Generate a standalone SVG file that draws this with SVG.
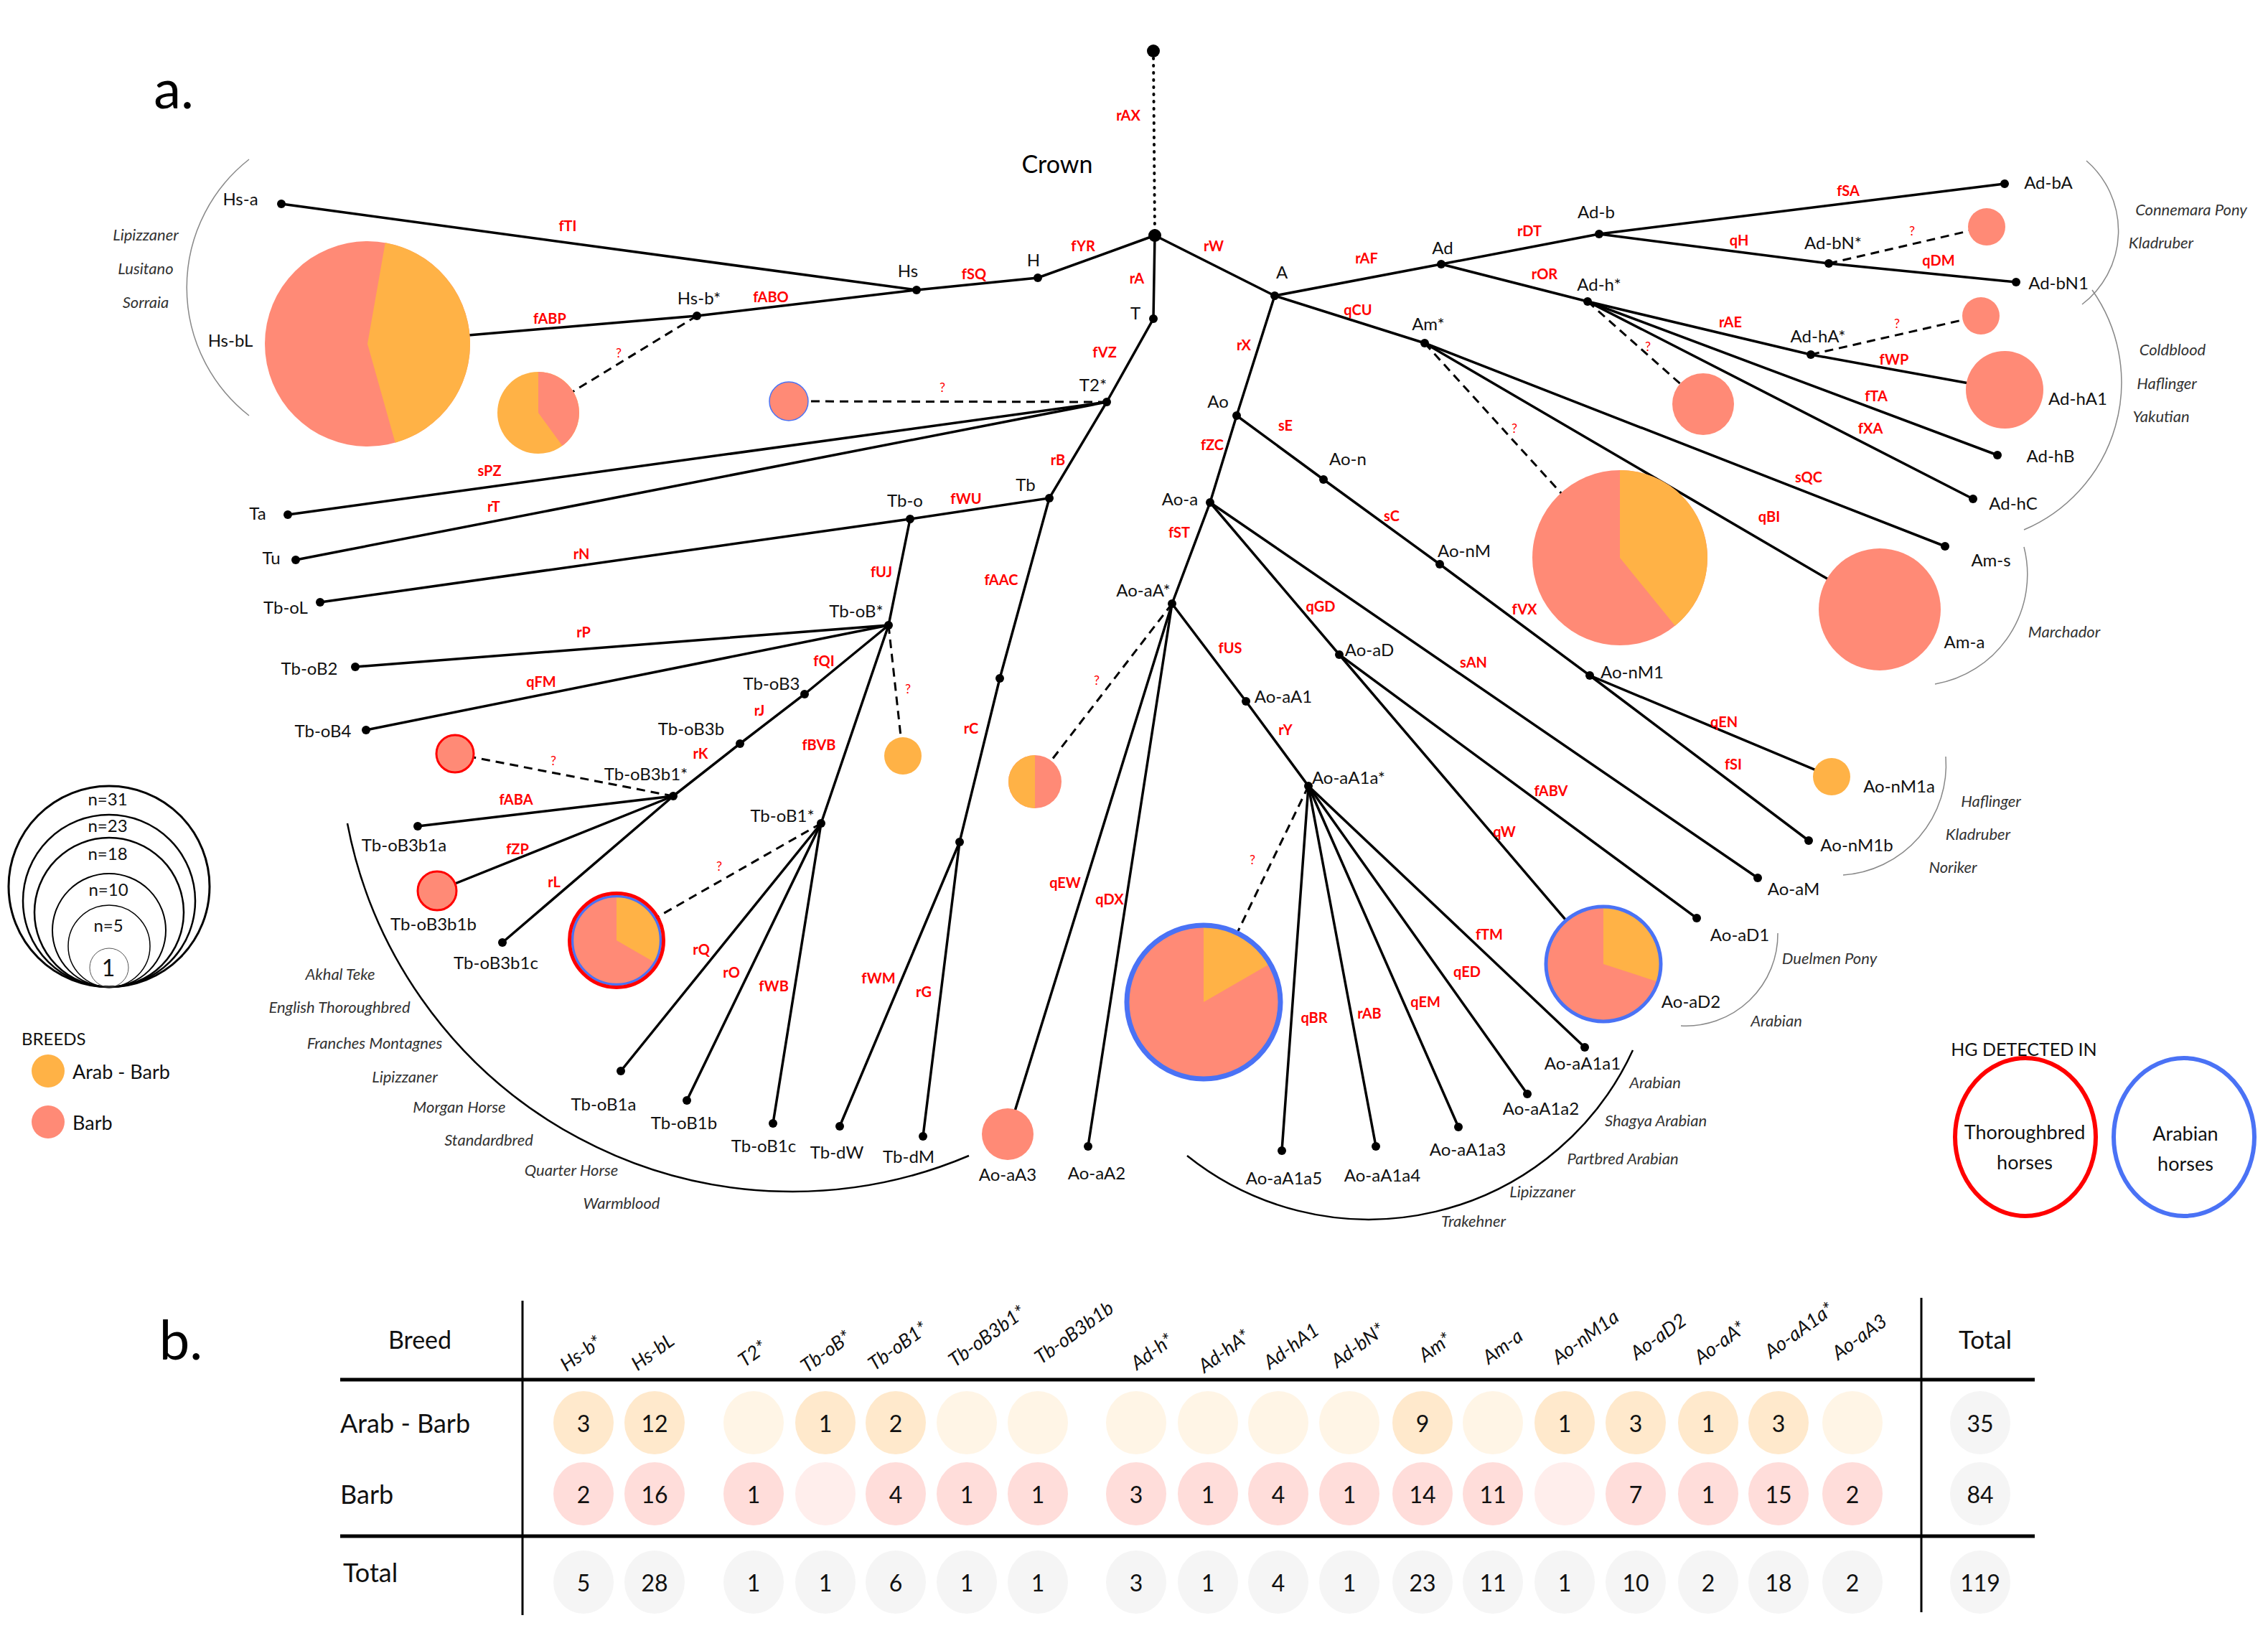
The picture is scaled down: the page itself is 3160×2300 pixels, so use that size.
<svg xmlns="http://www.w3.org/2000/svg" width="3160" height="2300" viewBox="0 0 3160 2300">
<style>
text{font-family:Lato,"Open Sans","Liberation Sans",sans-serif;dominant-baseline:central}
.e{stroke:#000;stroke-width:3.5;fill:none;stroke-linecap:round}
.d{stroke:#000;stroke-width:3;fill:none;stroke-dasharray:12 8}
.dot{fill:#000}
.lb{font-size:24px;fill:#111;text-anchor:middle}
.el{font-size:20px;font-weight:700;fill:#f00;text-anchor:middle}
.q{font-size:18px;fill:#f00;text-anchor:middle}
.br{font-size:22px;font-style:italic;fill:#333;text-anchor:middle}
.arc{fill:none;stroke:#888;stroke-width:1.5}
.arcb{fill:none;stroke:#000;stroke-width:2.5}
.or{fill:#FFB246}
.pk{fill:#FF8A76}
.rs{fill:none;stroke:#f00}
.bs{fill:none;stroke:#4A72F5}
.hd{font-size:27px;font-style:italic;fill:#111}
.num{font-size:32px;fill:#111;text-anchor:middle}
.ca{fill:#FFE9CC}.cae{fill:#FFF5E6}.cb{fill:#FFDDDA}.cbe{fill:#FFEEEC}.ct{fill:#F5F5F5}
</style>
<rect width="3160" height="2300" fill="#fff"/>
<text x="242" y="121" font-size="76" style="text-anchor:middle">a.</text>
<text x="252" y="1864" font-size="76" style="text-anchor:middle">b.</text>
<text x="1473" y="227" font-size="34" style="text-anchor:middle">Crown</text>

<g id="connectors">
<path d="M1607,71 L1609,328" stroke="#000" stroke-width="4" stroke-dasharray="1 9" stroke-linecap="round"/>
<path class="e" d="M1609,328 L1446,387 L1277,404 L392,284"/>
<path class="e" d="M1277,404 L971,440 L512,479"/>
<path class="d" d="M971,440 L750,575"/>
<path class="e" d="M1609,328 L1607,444 L1542,560 L401,717"/>
<path class="d" d="M1542,560 L1099,559"/>
<path class="e" d="M1542,560 L412,780"/>
<path class="e" d="M1542,560 L1462,694 L1268,723 L446,839"/>
<path class="e" d="M1268,723 L1238,871 L495,929"/>
<path class="e" d="M1238,871 L510,1017"/>
<path class="e" d="M1238,871 L1121,967 L1031,1036 L938,1109 L582,1151"/>
<path class="d" d="M938,1109 L634,1050"/>
<path class="e" d="M938,1109 L609,1241"/>
<path class="e" d="M938,1109 L700,1313"/>
<path class="d" d="M1238,871 L1258,1053"/>
<path class="e" d="M1238,871 L1144,1147 L865,1492"/>
<path class="d" d="M1144,1147 L859,1310"/>
<path class="e" d="M1144,1147 L957,1533"/>
<path class="e" d="M1144,1147 L1077,1565"/>
<path class="e" d="M1462,694 L1393,945 L1337,1173 L1170,1569"/>
<path class="e" d="M1337,1173 L1286,1583"/>
<path class="e" d="M1609,328 L1776,412 L2008,368 L2228,326 L2793,256"/>
<path class="e" d="M2228,326 L2548,367 L2809,393"/>
<path class="d" d="M2548,367 L2768,316"/>
<path class="e" d="M2008,368 L2212,420 L2523,494 L2793,543"/>
<path class="d" d="M2523,494 L2760,440"/>
<path class="e" d="M2212,420 L2783,634"/>
<path class="e" d="M2212,420 L2749,695"/>
<path class="d" d="M2212,420 L2373,563"/>
<path class="e" d="M1776,412 L1985,478 L2710,761"/>
<path class="d" d="M1985,478 L2257,777"/>
<path class="e" d="M1985,478 L2619,849"/>
<path class="e" d="M1776,412 L1723,579 L1844,668 L2006,786 L2215,941 L2552,1082"/>
<path class="e" d="M2215,941 L2520,1171"/>
<path class="e" d="M1723,579 L1686,700 L2449,1223"/>
<path class="e" d="M1686,700 L1866,912 L2364,1279"/>
<path class="e" d="M1866,912 L2234,1343"/>
<path class="e" d="M1686,700 L1633,841 L1404,1580"/>
<path class="d" d="M1633,841 L1442,1089"/>
<path class="e" d="M1633,841 L1516,1597"/>
<path class="e" d="M1633,841 L1736,977 L1823,1095 L2208,1459"/>
<path class="d" d="M1823,1095 L1677,1396"/>
<path class="e" d="M1823,1095 L2128,1524"/>
<path class="e" d="M1823,1095 L2032,1570"/>
<path class="e" d="M1823,1095 L1917,1597"/>
<path class="e" d="M1823,1095 L1786,1603"/>
</g>

<g id="edge-labels">
<text class="el" x="1572" y="160">rAX</text>
<text class="el" x="1509" y="342">fYR</text>
<text class="el" x="1357" y="381">fSQ</text>
<text class="el" x="1691" y="342">rW</text>
<text class="el" x="1584" y="387">rA</text>
<text class="el" x="1904" y="359">rAF</text>
<text class="el" x="1892" y="431">qCU</text>
<text class="el" x="791" y="314">fTI</text>
<text class="el" x="1074" y="413">fABO</text>
<text class="el" x="766" y="443">fABP</text>
<text class="q" x="862" y="491">?</text>
<text class="el" x="1539" y="490">fVZ</text>
<text class="q" x="1313" y="539">?</text>
<text class="el" x="682" y="655">sPZ</text>
<text class="el" x="688" y="705">rT</text>
<text class="el" x="1733" y="480">rX</text>
<text class="el" x="1791" y="592">sE</text>
<text class="el" x="1689" y="619">fZC</text>
<text class="el" x="1939" y="718">sC</text>
<text class="el" x="1474" y="640">rB</text>
<text class="el" x="1346" y="694">fWU</text>
<text class="el" x="810" y="771">rN</text>
<text class="el" x="1228" y="796">fUJ</text>
<text class="el" x="813" y="880">rP</text>
<text class="el" x="754" y="949">qFM</text>
<text class="el" x="1148" y="920">fQI</text>
<text class="el" x="1058" y="989">rJ</text>
<text class="el" x="976" y="1049">rK</text>
<text class="q" x="1265" y="959">?</text>
<text class="el" x="1141" y="1037">fBVB</text>
<text class="q" x="771" y="1059">?</text>
<text class="el" x="719" y="1113">fABA</text>
<text class="el" x="721" y="1182">fZP</text>
<text class="el" x="772" y="1228">rL</text>
<text class="q" x="1002" y="1206">?</text>
<text class="el" x="977" y="1322">rQ</text>
<text class="el" x="1019" y="1354">rO</text>
<text class="el" x="1078" y="1373">fWB</text>
<text class="el" x="1224" y="1362">fWM</text>
<text class="el" x="1287" y="1381">rG</text>
<text class="el" x="1395" y="807">fAAC</text>
<text class="el" x="1353" y="1014">rC</text>
<text class="el" x="1643" y="741">fST</text>
<text class="el" x="1840" y="844">qGD</text>
<text class="el" x="1714" y="902">fUS</text>
<text class="q" x="1528" y="947">?</text>
<text class="el" x="1791" y="1016">rY</text>
<text class="q" x="1745" y="1197">?</text>
<text class="el" x="1484" y="1229">qEW</text>
<text class="el" x="1546" y="1252">qDX</text>
<text class="el" x="1831" y="1417">qBR</text>
<text class="el" x="1908" y="1411">rAB</text>
<text class="el" x="1986" y="1395">qEM</text>
<text class="el" x="2044" y="1353">qED</text>
<text class="el" x="2075" y="1301">fTM</text>
<text class="el" x="2096" y="1158">qW</text>
<text class="el" x="2161" y="1101">fABV</text>
<text class="el" x="2053" y="922">sAN</text>
<text class="el" x="2124" y="848">fVX</text>
<text class="el" x="2402" y="1005">qEN</text>
<text class="el" x="2415" y="1064">fSI</text>
<text class="el" x="2131" y="321">rDT</text>
<text class="el" x="2575" y="265">fSA</text>
<text class="el" x="2423" y="334">qH</text>
<text class="q" x="2664" y="321">?</text>
<text class="el" x="2701" y="362">qDM</text>
<text class="el" x="2152" y="381">rOR</text>
<text class="el" x="2411" y="448">rAE</text>
<text class="q" x="2643" y="450">?</text>
<text class="el" x="2639" y="500">fWP</text>
<text class="el" x="2614" y="551">fTA</text>
<text class="el" x="2606" y="596">fXA</text>
<text class="q" x="2296" y="482">?</text>
<text class="q" x="2110" y="596">?</text>
<text class="el" x="2520" y="664">sQC</text>
<text class="el" x="2465" y="719">qBI</text>
</g>

<g id="breed-arcs">
<path class="arc" d="M347,222 A227,227 0 0,0 347,579"/>
<path class="arc" d="M2907,224 A129,129 0 0,1 2901,424"/>
<path class="arc" d="M2915,404 A223,223 0 0,1 2820,738"/>
<path class="arc" d="M2820,762 A155,155 0 0,1 2696,953"/>
<path class="arc" d="M2711,1054 A154,154 0 0,1 2568,1219"/>
<path class="arc" d="M2477,1300 A128,128 0 0,1 2342,1429"/>
<path class="arcb" d="M484,1147 A631,631 0 0,0 1350,1610"/>
<path class="arcb" d="M1654,1610 A405,405 0 0,0 2275,1463"/>
<text class="br" x="203" y="326">Lipizzaner</text>
<text class="br" x="203" y="373">Lusitano</text>
<text class="br" x="203" y="420">Sorraia</text>
<text class="br" x="3053" y="291">Connemara Pony</text>
<text class="br" x="3011" y="337">Kladruber</text>
<text class="br" x="3027" y="486">Coldblood</text>
<text class="br" x="3019" y="533">Haflinger</text>
<text class="br" x="3011" y="579">Yakutian</text>
<text class="br" x="2876" y="879">Marchador</text>
<text class="br" x="2774" y="1115">Haflinger</text>
<text class="br" x="2756" y="1161">Kladruber</text>
<text class="br" x="2721" y="1207">Noriker</text>
<text class="br" x="2549" y="1334">Duelmen Pony</text>
<text class="br" x="2475" y="1421">Arabian</text>
<text class="br" x="2306" y="1507">Arabian</text>
<text class="br" x="2307" y="1560">Shagya Arabian</text>
<text class="br" x="2261" y="1613">Partbred Arabian</text>
<text class="br" x="2149" y="1659">Lipizzaner</text>
<text class="br" x="2053" y="1700">Trakehner</text>
<text class="br" x="474" y="1356">Akhal Teke</text>
<text class="br" x="473" y="1402">English Thoroughbred</text>
<text class="br" x="522" y="1452">Franches Montagnes</text>
<text class="br" x="564" y="1499">Lipizzaner</text>
<text class="br" x="640" y="1541">Morgan Horse</text>
<text class="br" x="681" y="1587">Standardbred</text>
<text class="br" x="796" y="1629">Quarter Horse</text>
<text class="br" x="866" y="1675">Warmblood</text>
</g>

<g id="n-root"><circle class="dot" cx="1607" cy="71" r="9"/></g>
<g id="n-crown"><circle class="dot" cx="1609" cy="328" r="9"/></g>
<g id="n-H"><circle class="dot" cx="1446" cy="387" r="6"/><text class="lb" x="1440" y="361">H</text></g>
<g id="n-Hs"><circle class="dot" cx="1277" cy="404" r="6"/><text class="lb" x="1265" y="376">Hs</text></g>
<g id="n-Hs-a"><circle class="dot" cx="392" cy="284" r="6"/><text class="lb" x="335" y="276">Hs-a</text></g>
<g id="n-Hs-b"><circle class="dot" cx="971" cy="440" r="6"/><text class="lb" x="974" y="414">Hs-b*</text></g>
<g id="n-Hs-bL"><circle class="pk" cx="512" cy="479" r="143"/><path class="or" d="M512,479 L536.8,338.2 A143,143 0 0,1 550.7,616.7 Z"/><text class="lb" x="321" y="473">Hs-bL</text></g>
<g id="n-Hs-b-pie"><circle class="or" cx="750" cy="575" r="57"/><path class="pk" d="M750,575 L750,518 A57,57 0 0,1 783.5,621.1 Z"/></g>
<g id="n-T"><circle class="dot" cx="1607" cy="444" r="6"/><text class="lb" x="1582" y="435">T</text></g>
<g id="n-T2"><circle class="dot" cx="1542" cy="560" r="6"/><text class="lb" x="1523" y="535">T2*</text></g>
<g id="n-T2-pie"><circle class="pk" cx="1099" cy="559" r="27" stroke="#4A72F5" stroke-width="1.5"/></g>
<g id="n-Ta"><circle class="dot" cx="401" cy="717" r="6"/><text class="lb" x="359" y="714">Ta</text></g>
<g id="n-Tu"><circle class="dot" cx="412" cy="780" r="6"/><text class="lb" x="378" y="776">Tu</text></g>
<g id="n-Tb"><circle class="dot" cx="1462" cy="694" r="6"/><text class="lb" x="1429" y="674">Tb</text></g>
<g id="n-Tb-o"><circle class="dot" cx="1268" cy="723" r="6"/><text class="lb" x="1261" y="696">Tb-o</text></g>
<g id="n-Tb-oL"><circle class="dot" cx="446" cy="839" r="6"/><text class="lb" x="398" y="845">Tb-oL</text></g>
<g id="n-Tb-oB"><circle class="dot" cx="1238" cy="871" r="6"/><text class="lb" x="1193" y="850">Tb-oB*</text></g>
<g id="n-Tb-oB-pie"><circle class="or" cx="1258" cy="1053" r="26"/></g>
<g id="n-Tb-oB2"><circle class="dot" cx="495" cy="929" r="6"/><text class="lb" x="431" y="930">Tb-oB2</text></g>
<g id="n-Tb-oB4"><circle class="dot" cx="510" cy="1017" r="6"/><text class="lb" x="450" y="1017">Tb-oB4</text></g>
<g id="n-Tb-oB3"><circle class="dot" cx="1121" cy="967" r="6"/><text class="lb" x="1075" y="951">Tb-oB3</text></g>
<g id="n-Tb-oB3b"><circle class="dot" cx="1031" cy="1036" r="6"/><text class="lb" x="963" y="1014">Tb-oB3b</text></g>
<g id="n-Tb-oB3b1"><circle class="dot" cx="938" cy="1109" r="6"/><text class="lb" x="900" y="1077">Tb-oB3b1*</text></g>
<g id="n-Tb-oB3b1-pie"><circle class="pk" cx="634" cy="1050" r="26" stroke="#f00" stroke-width="3"/></g>
<g id="n-Tb-oB3b1a"><circle class="dot" cx="582" cy="1151" r="6"/><text class="lb" x="563" y="1176">Tb-oB3b1a</text></g>
<g id="n-Tb-oB3b1b"><circle class="pk" cx="609" cy="1241" r="27" stroke="#f00" stroke-width="3"/><text class="lb" x="604" y="1286">Tb-oB3b1b</text></g>
<g id="n-Tb-oB3b1c"><circle class="dot" cx="700" cy="1313" r="6"/><text class="lb" x="691" y="1340">Tb-oB3b1c</text></g>
<g id="n-Tb-oB1"><circle class="dot" cx="1144" cy="1147" r="6"/><text class="lb" x="1090" y="1135">Tb-oB1*</text></g>
<g id="n-Tb-oB1-pie"><circle class="pk" cx="859" cy="1310" r="62"/><path class="or" d="M859,1310 L859,1248 A62,62 0 0,1 912.7,1341 Z"/><circle class="bs" cx="859" cy="1310" r="61.5" stroke-width="3.5"/><circle class="rs" cx="859" cy="1310" r="65.5" stroke-width="5"/></g>
<g id="n-Tb-oB1a"><circle class="dot" cx="865" cy="1492" r="6"/><text class="lb" x="841" y="1537">Tb-oB1a</text></g>
<g id="n-Tb-oB1b"><circle class="dot" cx="957" cy="1533" r="6"/><text class="lb" x="953" y="1563">Tb-oB1b</text></g>
<g id="n-Tb-oB1c"><circle class="dot" cx="1077" cy="1565" r="6"/><text class="lb" x="1064" y="1595">Tb-oB1c</text></g>
<g id="n-Tb-d1"><circle class="dot" cx="1393" cy="945" r="6"/></g>
<g id="n-Tb-d"><circle class="dot" cx="1337" cy="1173" r="6"/></g>
<g id="n-Tb-dW"><circle class="dot" cx="1170" cy="1569" r="6"/><text class="lb" x="1166" y="1604">Tb-dW</text></g>
<g id="n-Tb-dM"><circle class="dot" cx="1286" cy="1583" r="6"/><text class="lb" x="1266" y="1610">Tb-dM</text></g>
<g id="n-A"><circle class="dot" cx="1776" cy="412" r="6"/><text class="lb" x="1786" y="378">A</text></g>
<g id="n-Ad"><circle class="dot" cx="2008" cy="368" r="6"/><text class="lb" x="2010" y="344">Ad</text></g>
<g id="n-Ad-b"><circle class="dot" cx="2228" cy="326" r="6"/><text class="lb" x="2224" y="294">Ad-b</text></g>
<g id="n-Ad-bA"><circle class="dot" cx="2793" cy="256" r="6"/><text class="lb" x="2854" y="253">Ad-bA</text></g>
<g id="n-Ad-bN"><circle class="dot" cx="2548" cy="367" r="6"/><text class="lb" x="2554" y="337">Ad-bN*</text></g>
<g id="n-Ad-bN-pie"><circle class="pk" cx="2768" cy="316" r="26"/></g>
<g id="n-Ad-bN1"><circle class="dot" cx="2809" cy="393" r="6"/><text class="lb" x="2868" y="393">Ad-bN1</text></g>
<g id="n-Ad-h"><circle class="dot" cx="2212" cy="420" r="6"/><text class="lb" x="2228" y="395">Ad-h*</text></g>
<g id="n-Ad-h-pie"><circle class="pk" cx="2373" cy="563" r="43"/></g>
<g id="n-Ad-hA"><circle class="dot" cx="2523" cy="494" r="6"/><text class="lb" x="2533" y="467">Ad-hA*</text></g>
<g id="n-Ad-hA-pie"><circle class="pk" cx="2760" cy="440" r="26"/></g>
<g id="n-Ad-hA1"><circle class="pk" cx="2793" cy="543" r="54"/><text class="lb" x="2895" y="554">Ad-hA1</text></g>
<g id="n-Ad-hB"><circle class="dot" cx="2783" cy="634" r="6"/><text class="lb" x="2857" y="634">Ad-hB</text></g>
<g id="n-Ad-hC"><circle class="dot" cx="2749" cy="695" r="6"/><text class="lb" x="2805" y="700">Ad-hC</text></g>
<g id="n-Am"><circle class="dot" cx="1985" cy="478" r="6"/><text class="lb" x="1990" y="450">Am*</text></g>
<g id="n-Am-pie"><circle class="pk" cx="2257" cy="777" r="122"/><path class="or" d="M2257,777 L2257,655 A122,122 0 0,1 2333.9,871.7 Z"/></g>
<g id="n-Am-s"><circle class="dot" cx="2710" cy="761" r="6"/><text class="lb" x="2774" y="779">Am-s</text></g>
<g id="n-Am-a"><circle class="pk" cx="2619" cy="849" r="85"/><text class="lb" x="2737" y="893">Am-a</text></g>
<g id="n-Ao"><circle class="dot" cx="1723" cy="579" r="6"/><text class="lb" x="1697" y="558">Ao</text></g>
<g id="n-Ao-n"><circle class="dot" cx="1844" cy="668" r="6"/><text class="lb" x="1878" y="638">Ao-n</text></g>
<g id="n-Ao-nM"><circle class="dot" cx="2006" cy="786" r="6"/><text class="lb" x="2040" y="766">Ao-nM</text></g>
<g id="n-Ao-nM1"><circle class="dot" cx="2215" cy="941" r="6"/><text class="lb" x="2274" y="935">Ao-nM1</text></g>
<g id="n-Ao-nM1a"><circle class="or" cx="2552" cy="1082" r="26"/><text class="lb" x="2646" y="1094">Ao-nM1a</text></g>
<g id="n-Ao-nM1b"><circle class="dot" cx="2520" cy="1171" r="6"/><text class="lb" x="2587" y="1176">Ao-nM1b</text></g>
<g id="n-Ao-a"><circle class="dot" cx="1686" cy="700" r="6"/><text class="lb" x="1644" y="694">Ao-a</text></g>
<g id="n-Ao-aM"><circle class="dot" cx="2449" cy="1223" r="6"/><text class="lb" x="2499" y="1237">Ao-aM</text></g>
<g id="n-Ao-aD"><circle class="dot" cx="1866" cy="912" r="6"/><text class="lb" x="1908" y="904">Ao-aD</text></g>
<g id="n-Ao-aD1"><circle class="dot" cx="2364" cy="1279" r="6"/><text class="lb" x="2424" y="1301">Ao-aD1</text></g>
<g id="n-Ao-aD2"><circle class="pk" cx="2234" cy="1343" r="80"/><path class="or" d="M2234,1343 L2234,1263 A80,80 0 0,1 2310.1,1367.7 Z"/><circle class="bs" cx="2234" cy="1343" r="80" stroke-width="5"/><text class="lb" x="2356" y="1394">Ao-aD2</text></g>
<g id="n-Ao-aA"><circle class="dot" cx="1633" cy="841" r="6"/><text class="lb" x="1593" y="821">Ao-aA*</text></g>
<g id="n-Ao-aA-pie"><circle class="pk" cx="1442" cy="1089" r="37"/><path class="or" d="M1442,1052 A37,37 0 0,0 1442,1126 Z"/></g>
<g id="n-Ao-aA3"><circle class="pk" cx="1404" cy="1580" r="36"/><text class="lb" x="1404" y="1635">Ao-aA3</text></g>
<g id="n-Ao-aA2"><circle class="dot" cx="1516" cy="1597" r="6"/><text class="lb" x="1528" y="1633">Ao-aA2</text></g>
<g id="n-Ao-aA1"><circle class="dot" cx="1736" cy="977" r="6"/><text class="lb" x="1788" y="969">Ao-aA1</text></g>
<g id="n-Ao-aA1a"><circle class="dot" cx="1823" cy="1095" r="6"/><text class="lb" x="1879" y="1082">Ao-aA1a*</text></g>
<g id="n-Ao-aA1a-pie"><circle class="pk" cx="1677" cy="1396" r="107"/><path class="or" d="M1677,1396 L1677,1289 A107,107 0 0,1 1769.7,1342.5 Z"/><circle class="bs" cx="1677" cy="1396" r="107" stroke-width="7"/></g>
<g id="n-Ao-aA1a1"><circle class="dot" cx="2208" cy="1459" r="6"/><text class="lb" x="2205" y="1480">Ao-aA1a1</text></g>
<g id="n-Ao-aA1a2"><circle class="dot" cx="2128" cy="1524" r="6"/><text class="lb" x="2147" y="1543">Ao-aA1a2</text></g>
<g id="n-Ao-aA1a3"><circle class="dot" cx="2032" cy="1570" r="6"/><text class="lb" x="2045" y="1600">Ao-aA1a3</text></g>
<g id="n-Ao-aA1a4"><circle class="dot" cx="1917" cy="1597" r="6"/><text class="lb" x="1926" y="1636">Ao-aA1a4</text></g>
<g id="n-Ao-aA1a5"><circle class="dot" cx="1786" cy="1603" r="6"/><text class="lb" x="1789" y="1640">Ao-aA1a5</text></g>

<g id="legend-size" fill="none" stroke="#000">
<circle cx="152" cy="1235" r="140" stroke-width="3"/>
<circle cx="152" cy="1255" r="120" stroke-width="2.5"/>
<circle cx="152" cy="1271" r="104" stroke-width="2.5"/>
<circle cx="152" cy="1296" r="79" stroke-width="2"/>
<circle cx="152" cy="1318" r="57" stroke-width="1.5"/>
<circle cx="152" cy="1348" r="27" stroke-width="1" stroke="#555"/>
</g>
<g id="legend-size-text" font-size="24" fill="#111">
<text x="150" y="1112" style="text-anchor:middle">n=31</text>
<text x="150" y="1149" style="text-anchor:middle">n=23</text>
<text x="150" y="1188" style="text-anchor:middle">n=18</text>
<text x="151" y="1238" style="text-anchor:middle">n=10</text>
<text x="151" y="1288" style="text-anchor:middle">n=5</text>
<text x="151" y="1347" font-size="32" style="text-anchor:middle">1</text>
</g>
<g id="legend-breeds">
<text x="30" y="1446" font-size="24" fill="#111">BREEDS</text>
<circle class="or" cx="67" cy="1492" r="23"/>
<text x="101" y="1492" font-size="27" fill="#111">Arab - Barb</text>
<circle class="pk" cx="67" cy="1563" r="23"/>
<text x="101" y="1563" font-size="27" fill="#111">Barb</text>
</g>
<g id="legend-hg">
<text x="2820" y="1461" font-size="25" fill="#111" style="text-anchor:middle">HG DETECTED IN</text>
<ellipse cx="2822" cy="1584" rx="98" ry="110" fill="none" stroke="#f00" stroke-width="6"/>
<ellipse cx="3043" cy="1584" rx="98" ry="110" fill="none" stroke="#4A72F5" stroke-width="6"/>
<text x="2821" y="1576" font-size="27" fill="#111" style="text-anchor:middle">Thoroughbred</text>
<text x="2821" y="1618" font-size="27" fill="#111" style="text-anchor:middle">horses</text>
<text x="3045" y="1578" font-size="27" fill="#111" style="text-anchor:middle">Arabian</text>
<text x="3045" y="1620" font-size="27" fill="#111" style="text-anchor:middle">horses</text>
</g>

<g id="table">
<line x1="474" y1="1922" x2="2835" y2="1922" stroke="#000" stroke-width="5"/>
<line x1="474" y1="2140" x2="2835" y2="2140" stroke="#000" stroke-width="5"/>
<line x1="728" y1="1812" x2="728" y2="2250" stroke="#000" stroke-width="3"/>
<line x1="2677" y1="1808" x2="2677" y2="2246" stroke="#000" stroke-width="3"/>
<text x="585" y="1865" font-size="34" fill="#111" style="text-anchor:middle">Breed</text>
<text x="2766" y="1865" font-size="35" fill="#111" style="text-anchor:middle">Total</text>
<text x="474" y="1982" font-size="36" fill="#111">Arab - Barb</text>
<text x="474" y="2081" font-size="36" fill="#111">Barb</text>
<text x="478" y="2190" font-size="36" fill="#111">Total</text>
<g id="table-header">
<text class="hd" x="783" y="1903" transform="rotate(-36 783 1903)">Hs-b*</text>
<text class="hd" x="882" y="1902" transform="rotate(-36 882 1902)">Hs-bL</text>
<text class="hd" x="1031" y="1897" transform="rotate(-36 1031 1897)">T2*</text>
<text class="hd" x="1118" y="1905" transform="rotate(-36 1118 1905)">Tb-oB*</text>
<text class="hd" x="1212" y="1902" transform="rotate(-36 1212 1902)">Tb-oB1*</text>
<text class="hd" x="1324" y="1897" transform="rotate(-36 1324 1897)">Tb-oB3b1*</text>
<text class="hd" x="1444" y="1893" transform="rotate(-36 1444 1893)">Tb-oB3b1b</text>
<text class="hd" x="1578" y="1901" transform="rotate(-36 1578 1901)">Ad-h*</text>
<text class="hd" x="1672" y="1905" transform="rotate(-36 1672 1905)">Ad-hA*</text>
<text class="hd" x="1763" y="1900" transform="rotate(-36 1763 1900)">Ad-hA1</text>
<text class="hd" x="1857" y="1898" transform="rotate(-36 1857 1898)">Ad-bN*</text>
<text class="hd" x="1979" y="1890" transform="rotate(-36 1979 1890)">Am*</text>
<text class="hd" x="2068" y="1893" transform="rotate(-36 2068 1893)">Am-a</text>
<text class="hd" x="2165" y="1893" transform="rotate(-36 2165 1893)">Ao-nM1a</text>
<text class="hd" x="2274" y="1887" transform="rotate(-36 2274 1887)">Ao-aD2</text>
<text class="hd" x="2363" y="1893" transform="rotate(-36 2363 1893)">Ao-aA*</text>
<text class="hd" x="2461" y="1885" transform="rotate(-36 2461 1885)">Ao-aA1a*</text>
<text class="hd" x="2555" y="1887" transform="rotate(-36 2555 1887)">Ao-aA3</text>
</g>
<g id="table-cells">
<ellipse class="ca" cx="813" cy="1982" rx="42" ry="44"/><ellipse class="ca" cx="912" cy="1982" rx="42" ry="44"/><ellipse class="cae" cx="1050" cy="1982" rx="42" ry="44"/><ellipse class="ca" cx="1150" cy="1982" rx="42" ry="44"/><ellipse class="ca" cx="1248" cy="1982" rx="42" ry="44"/><ellipse class="cae" cx="1347" cy="1982" rx="42" ry="44"/><ellipse class="cae" cx="1446" cy="1982" rx="42" ry="44"/><ellipse class="cae" cx="1583" cy="1982" rx="42" ry="44"/><ellipse class="cae" cx="1683" cy="1982" rx="42" ry="44"/><ellipse class="cae" cx="1781" cy="1982" rx="42" ry="44"/><ellipse class="cae" cx="1880" cy="1982" rx="42" ry="44"/><ellipse class="ca" cx="1982" cy="1982" rx="42" ry="44"/><ellipse class="cae" cx="2080" cy="1982" rx="42" ry="44"/><ellipse class="ca" cx="2180" cy="1982" rx="42" ry="44"/><ellipse class="ca" cx="2279" cy="1982" rx="42" ry="44"/><ellipse class="ca" cx="2380" cy="1982" rx="42" ry="44"/><ellipse class="ca" cx="2478" cy="1982" rx="42" ry="44"/><ellipse class="cae" cx="2581" cy="1982" rx="42" ry="44"/><ellipse class="ct" cx="2759" cy="1982" rx="42" ry="44"/>
<ellipse class="cb" cx="813" cy="2081" rx="42" ry="44"/><ellipse class="cb" cx="912" cy="2081" rx="42" ry="44"/><ellipse class="cb" cx="1050" cy="2081" rx="42" ry="44"/><ellipse class="cbe" cx="1150" cy="2081" rx="42" ry="44"/><ellipse class="cb" cx="1248" cy="2081" rx="42" ry="44"/><ellipse class="cb" cx="1347" cy="2081" rx="42" ry="44"/><ellipse class="cb" cx="1446" cy="2081" rx="42" ry="44"/><ellipse class="cb" cx="1583" cy="2081" rx="42" ry="44"/><ellipse class="cb" cx="1683" cy="2081" rx="42" ry="44"/><ellipse class="cb" cx="1781" cy="2081" rx="42" ry="44"/><ellipse class="cb" cx="1880" cy="2081" rx="42" ry="44"/><ellipse class="cb" cx="1982" cy="2081" rx="42" ry="44"/><ellipse class="cb" cx="2080" cy="2081" rx="42" ry="44"/><ellipse class="cbe" cx="2180" cy="2081" rx="42" ry="44"/><ellipse class="cb" cx="2279" cy="2081" rx="42" ry="44"/><ellipse class="cb" cx="2380" cy="2081" rx="42" ry="44"/><ellipse class="cb" cx="2478" cy="2081" rx="42" ry="44"/><ellipse class="cb" cx="2581" cy="2081" rx="42" ry="44"/><ellipse class="ct" cx="2759" cy="2081" rx="42" ry="44"/>
<ellipse class="ct" cx="813" cy="2204" rx="42" ry="44"/><ellipse class="ct" cx="912" cy="2204" rx="42" ry="44"/><ellipse class="ct" cx="1050" cy="2204" rx="42" ry="44"/><ellipse class="ct" cx="1150" cy="2204" rx="42" ry="44"/><ellipse class="ct" cx="1248" cy="2204" rx="42" ry="44"/><ellipse class="ct" cx="1347" cy="2204" rx="42" ry="44"/><ellipse class="ct" cx="1446" cy="2204" rx="42" ry="44"/><ellipse class="ct" cx="1583" cy="2204" rx="42" ry="44"/><ellipse class="ct" cx="1683" cy="2204" rx="42" ry="44"/><ellipse class="ct" cx="1781" cy="2204" rx="42" ry="44"/><ellipse class="ct" cx="1880" cy="2204" rx="42" ry="44"/><ellipse class="ct" cx="1982" cy="2204" rx="42" ry="44"/><ellipse class="ct" cx="2080" cy="2204" rx="42" ry="44"/><ellipse class="ct" cx="2180" cy="2204" rx="42" ry="44"/><ellipse class="ct" cx="2279" cy="2204" rx="42" ry="44"/><ellipse class="ct" cx="2380" cy="2204" rx="42" ry="44"/><ellipse class="ct" cx="2478" cy="2204" rx="42" ry="44"/><ellipse class="ct" cx="2581" cy="2204" rx="42" ry="44"/><ellipse class="ct" cx="2759" cy="2204" rx="42" ry="44"/>
</g>
<g id="table-values">
<text class="num" x="813" y="1982">3</text><text class="num" x="912" y="1982">12</text><text class="num" x="1150" y="1982">1</text><text class="num" x="1248" y="1982">2</text><text class="num" x="1982" y="1982">9</text><text class="num" x="2180" y="1982">1</text><text class="num" x="2279" y="1982">3</text><text class="num" x="2380" y="1982">1</text><text class="num" x="2478" y="1982">3</text><text class="num" x="2759" y="1982">35</text>
<text class="num" x="813" y="2081">2</text><text class="num" x="912" y="2081">16</text><text class="num" x="1050" y="2081">1</text><text class="num" x="1248" y="2081">4</text><text class="num" x="1347" y="2081">1</text><text class="num" x="1446" y="2081">1</text><text class="num" x="1583" y="2081">3</text><text class="num" x="1683" y="2081">1</text><text class="num" x="1781" y="2081">4</text><text class="num" x="1880" y="2081">1</text><text class="num" x="1982" y="2081">14</text><text class="num" x="2080" y="2081">11</text><text class="num" x="2279" y="2081">7</text><text class="num" x="2380" y="2081">1</text><text class="num" x="2478" y="2081">15</text><text class="num" x="2581" y="2081">2</text><text class="num" x="2759" y="2081">84</text>
<text class="num" x="813" y="2204">5</text><text class="num" x="912" y="2204">28</text><text class="num" x="1050" y="2204">1</text><text class="num" x="1150" y="2204">1</text><text class="num" x="1248" y="2204">6</text><text class="num" x="1347" y="2204">1</text><text class="num" x="1446" y="2204">1</text><text class="num" x="1583" y="2204">3</text><text class="num" x="1683" y="2204">1</text><text class="num" x="1781" y="2204">4</text><text class="num" x="1880" y="2204">1</text><text class="num" x="1982" y="2204">23</text><text class="num" x="2080" y="2204">11</text><text class="num" x="2180" y="2204">1</text><text class="num" x="2279" y="2204">10</text><text class="num" x="2380" y="2204">2</text><text class="num" x="2478" y="2204">18</text><text class="num" x="2581" y="2204">2</text><text class="num" x="2759" y="2204">119</text>
</g>
</g>
</svg>
